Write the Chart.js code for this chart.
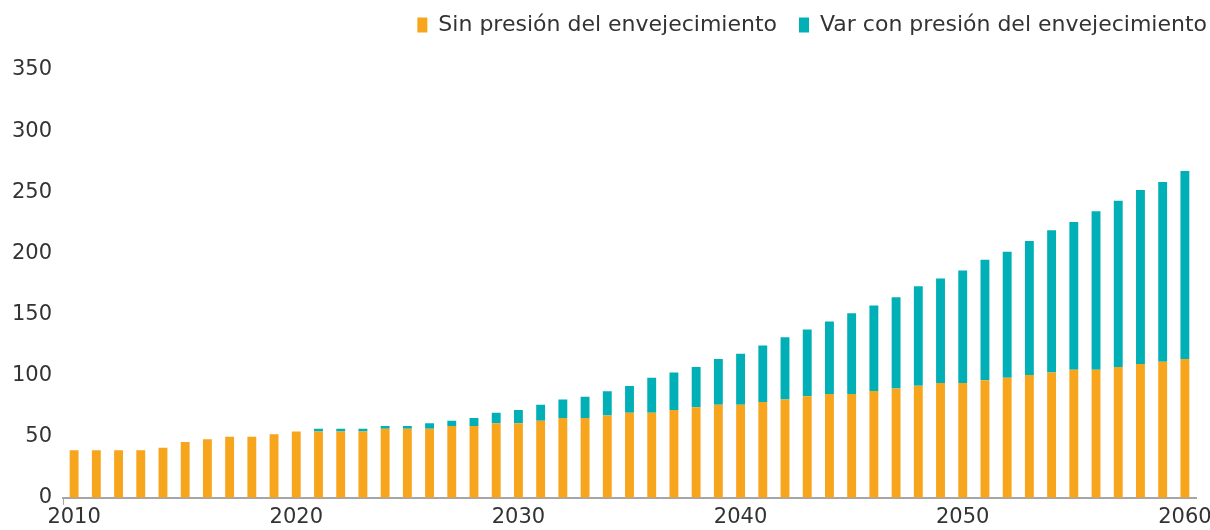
<!DOCTYPE html>
<html>
<head>
<meta charset="utf-8">
<script src="https://cdn.jsdelivr.net/npm/chart.js@4.4.1/dist/chart.umd.min.js"></script>
<style>
  html, body { margin: 0; padding: 0; background: #fff; }
  #wrap { width: 1210px; height: 530px; }
</style>
</head>
<body>
<div id="wrap"><canvas id="myChart" width="1210" height="530"></canvas></div>
<script>
// years 2010..2060
var years = [];
for (var y = 2010; y <= 2060; y++) years.push(String(y));

var sinPresion = [39, 39, 39, 39, 41, 45.6, 47.8, 50, 50, 52,
    54.3, 54.3, 54.3, 54.3, 56.5, 56.5, 56.5, 58.7, 58.7, 60.9,
    60.9, 63, 65.2, 65.2, 67.4, 69.6, 69.6, 71.8, 74, 76.1,
    76.1, 78.3, 80.5, 83, 84.9, 84.9, 87.3, 89.5, 91.7, 93.9,
    93.9, 96.1, 98.2, 100.4, 102.6, 104.7, 104.7, 107, 109.4, 111.3,
    113.5];

var varConPresion = [0, 0, 0, 0, 0, 0, 0, 0, 0, 0,
    0, 2.2, 2.2, 2.2, 2.2, 2.2, 4.4, 4.3, 6.5, 8.7,
    10.9, 13.1, 15.3, 17.5, 19.7, 21.8, 28.6, 30.8, 33, 37.4,
    41.7, 46.4, 50.8, 54.7, 59.4, 66, 70.1, 74.5, 81.3, 85.6,
    92.1, 98.7, 103.1, 109.6, 116.2, 120.9, 129.7, 136, 142.4, 147,
    153.9];

var yTicks = [0, 50, 100, 150, 200, 250, 300, 350];

var fontFam = "'DejaVu Sans', sans-serif";
var textCol = '#333333';

// make the legend box taller so the plot starts lower
var legendSpace = {
    id: 'legendSpace',
    beforeUpdate: function (chart) {
        var lg = chart.legend;
        if (lg && !lg._patched) {
            lg._patched = true;
            var origFit = lg.fit;
            lg.fit = function () {
                origFit.call(this);
                this.height = 78;
            };
        }
    }
};

var ctx = document.getElementById("myChart");
var myChart = new Chart(ctx, {
type: 'bar',
data: {
    labels: years,
    datasets: [{
        label: 'Sin presión del envejecimiento',
        data: sinPresion,
        backgroundColor: '#F8A51E',
        barPercentage: 0.4,
        categoryPercentage: 1
    }, {
        label: 'Var con presión del envejecimiento',
        data: varConPresion,
        backgroundColor: '#00B0B6',
        barPercentage: 0.4,
        categoryPercentage: 1
    }]
},
plugins: [legendSpace],
options: {
    responsive: false,
    animation: false,
    layout: {
        padding: { left: 0, right: -19, top: -8, bottom: 0 }
    },
    plugins: {
        tooltip: { enabled: false },
        legend: {
            display: true,
            position: 'top',
            align: 'end',
            labels: {
                color: textCol,
                boxWidth: 10,
                boxHeight: 15,
                padding: 22,
                font: { family: fontFam, size: 22 }
            }
        }
    },
    scales: {
        x: {
            stacked: true,
            afterFit: function (scale) {
                scale.paddingLeft = 0;
                scale.paddingRight = 14;
            },
            grid: {
                drawOnChartArea: false,
                tickLength: 7,
                color: function (c) {
                    return (c.index === 0 || c.index === years.length) ? '#A6A6A6' : 'rgba(0,0,0,0)';
                }
            },
            border: { display: true, color: '#A6A6A6', width: 2 },
            ticks: {
                autoSkip: false,
                maxRotation: 0,
                padding: 0,
                color: textCol,
                font: { family: fontFam, size: 21 },
                callback: function (v, i) {
                    var yr = years[i];
                    return (Number(yr) % 10 === 0) ? yr : '';
                }
            }
        },
        y: {
            stacked: true,
            min: 0,
            max: 350,
            afterBuildTicks: function (scale) {
                scale.ticks = yTicks.map(function (v) { return { value: v }; });
            },
            afterFit: function (scale) {
                scale.width = 63;
            },
            grid: { display: false, drawTicks: false },
            border: { display: false },
            ticks: {
                padding: 11,
                color: textCol,
                font: { family: fontFam, size: 21 }
            }
        }
    }
}
});
</script>
</body>
</html>
